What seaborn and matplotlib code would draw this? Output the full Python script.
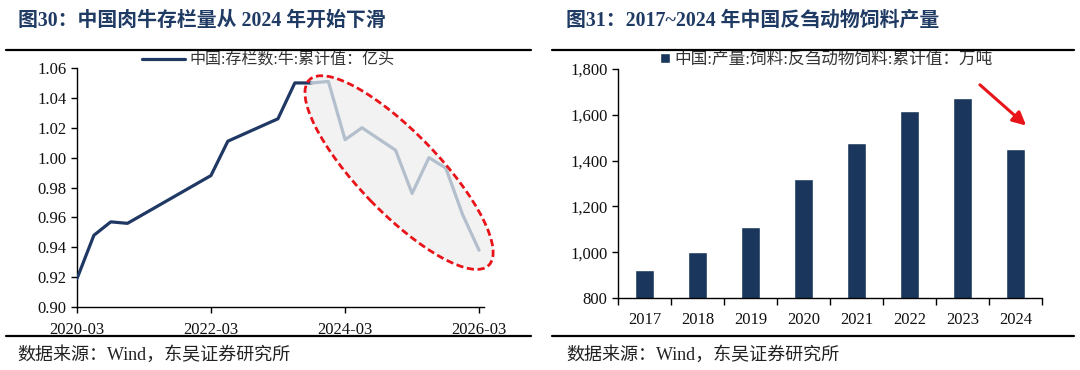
import matplotlib
matplotlib.use("Agg")
import matplotlib.pyplot as plt
import matplotlib.dates as mdates
import matplotlib.ticker as mticker
from matplotlib.patches import Ellipse
from matplotlib.transforms import ScaledTranslation
from matplotlib.lines import Line2D
import pandas as pd
import seaborn as sns

NAVY = "#1f3864"
BAR = "#1b365d"
GREY_LINE = "#b3bfcc"
TITLE = "#1f3a63"

# 图30: cattle stock (亿头)
cattle_dates = ["2020-03", "2020-06", "2020-09", "2020-12", "2022-03", "2022-06",
                "2023-03", "2023-06", "2023-09", "2023-12", "2024-03", "2024-06",
                "2024-12", "2025-03", "2025-06", "2025-09", "2025-12", "2026-03"]
cattle_stock = [0.919, 0.948, 0.957, 0.956, 0.988, 1.011, 1.026, 1.050, 1.050, 1.051,
                1.012, 1.020, 1.005, 0.976, 1.000, 0.993, 0.962, 0.938]
highlight_from = "2023-09"
left_ticks = ["2020-03", "2022-03", "2024-03", "2026-03"]

# 图31: ruminant feed output (万吨)
feed_years = ["2017", "2018", "2019", "2020", "2021", "2022", "2023", "2024"]
feed_output = [922, 1002, 1109, 1318, 1478, 1615, 1672, 1449]

sns.set_theme(style="ticks")
plt.rcParams["font.family"] = ["Liberation Serif", "Noto Sans CJK SC"]
plt.rcParams["axes.unicode_minus"] = False

cattle = pd.DataFrame({"date": pd.to_datetime(cattle_dates), "value": cattle_stock})
feed = pd.DataFrame({"year": feed_years, "value": feed_output})

fig = plt.figure(figsize=(10.8, 3.7), dpi=100)
W, H = 1080, 370


def px_axes(l, t, r, b):
    return fig.add_axes([l / W, 1 - b / H, (r - l) / W, (b - t) / H])


def style_axes(ax):
    for s in ["top", "right"]:
        ax.spines[s].set_visible(False)
    for s in ["left", "bottom"]:
        ax.spines[s].set_color("black")
        ax.spines[s].set_linewidth(1.0)
    ax.tick_params(axis="both", direction="out", length=4, width=1, color="black",
                   labelsize=12, labelcolor="#111111")
    ax.set_xlabel("")
    ax.set_ylabel("")


# ---- left panel ----
ax1 = px_axes(77, 68, 484, 307)
start = pd.Timestamp(highlight_from)
head = cattle[cattle["date"] <= start]
tail = cattle[cattle["date"] >= start]
sns.lineplot(data=head, x="date", y="value", color=NAVY, linewidth=2.3, ax=ax1,
             label="中国:存栏数:牛:累计值：亿头", zorder=3)
sns.lineplot(data=tail, x="date", y="value", color=GREY_LINE, linewidth=2.3, ax=ax1,
             legend=False, zorder=4)
ax1.set_ylim(0.90, 1.06)
ax1.set_xlim(pd.Timestamp("2020-03-01"), pd.Timestamp("2026-03-28"))
ax1.yaxis.set_major_locator(mticker.MultipleLocator(0.02))
ax1.yaxis.set_major_formatter(mticker.FormatStrFormatter("%.2f"))
ax1.set_xticks(pd.to_datetime(left_ticks))
ax1.xaxis.set_major_formatter(mdates.DateFormatter("%Y-%m"))
style_axes(ax1)
ax1.tick_params(axis="x", pad=7)

# highlight ellipse
cx = mdates.date2num(pd.Timestamp("2024-12-20"))
trans = fig.dpi_scale_trans + ScaledTranslation(cx, 0.990, ax1.transData)
ax1.add_patch(Ellipse((0, 0), 2.58, 0.80, angle=-46, transform=trans,
                      facecolor="#f2f2f2", edgecolor="none", zorder=1, clip_on=False))
ax1.add_patch(Ellipse((0, 0), 2.58, 0.80, angle=-46, transform=trans, fill=False,
                      edgecolor="#e8141a", linewidth=2.0, linestyle=(0, (2.6, 1.3)),
                      zorder=5, clip_on=False))

ax1.legend(loc="center", bbox_to_anchor=(0.470, 1.033), frameon=False, fontsize=11.5,
           handlelength=2.7, handletextpad=0.3, borderaxespad=0, labelcolor="#333333")

# ---- right panel ----
ax2 = px_axes(618, 69, 1042, 298)
sns.barplot(data=feed, x="year", y="value", color=BAR, width=0.34, ax=ax2,
            label="中国:产量:饲料:反刍动物饲料:累计值：万吨", saturation=1)
ax2.set_ylim(800, 1800)
ax2.set_xlim(-0.5, len(feed_years) - 0.5)
ax2.yaxis.set_major_locator(mticker.MultipleLocator(200))
ax2.yaxis.set_major_formatter(mticker.StrMethodFormatter("{x:,.0f}"))
style_axes(ax2)
ax2.tick_params(axis="x", length=0, pad=10)
ax2.set_xticks([i - 0.5 for i in range(len(feed_years) + 1)], minor=True)
ax2.tick_params(axis="x", which="minor", length=5, width=1, color="black")
ax2.annotate("", xy=(7.24, 1545), xytext=(6.29, 1739),
             arrowprops=dict(arrowstyle="-|>", color="#e8141a", lw=2.2,
                             mutation_scale=20))
ax2.legend(loc="center", bbox_to_anchor=(0.491, 1.039), frameon=False, fontsize=12,
           handlelength=0.6, handleheight=0.6, handletextpad=0.25, borderaxespad=0,
           labelcolor="#333333")

# ---- titles, rules, sources ----
fig.text(18 / W, 1 - 21 / H, "图30：中国肉牛存栏量从 2024 年开始下滑", fontsize=14.3,
         fontweight="bold", color=TITLE, va="center", ha="left")
fig.text(566 / W, 1 - 21 / H, "图31：2017~2024 年中国反刍动物饲料产量", fontsize=14.3,
         fontweight="bold", color=TITLE, va="center", ha="left")
for x0, x1 in [(6, 531), (552, 1074)]:
    fig.add_artist(Line2D([x0 / W, x1 / W], [1 - 50 / H] * 2, color="black", lw=1.6))
    fig.add_artist(Line2D([x0 / W, x1 / W], [1 - 336 / H] * 2, color="black", lw=1.6))
fig.text(17 / W, 1 - 355 / H, "数据来源：Wind，东吴证券研究所", fontsize=13,
         color="#222222", va="center", ha="left")
fig.text(566 / W, 1 - 355 / H, "数据来源：Wind，东吴证券研究所", fontsize=13,
         color="#222222", va="center", ha="left")

fig.savefig("out.png", dpi=100)
